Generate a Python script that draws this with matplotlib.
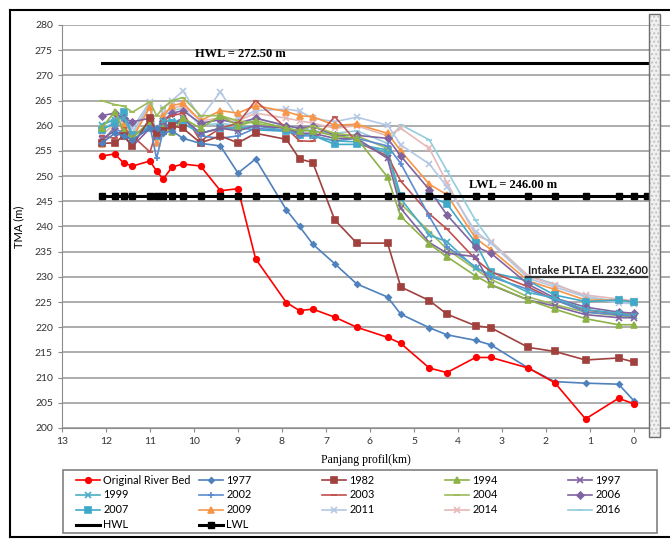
import matplotlib
matplotlib.use("Agg")
import matplotlib.pyplot as plt
from matplotlib.patches import Rectangle
from matplotlib.lines import Line2D

# jarak profil (km) tiap stasiun
km = [12.1, 11.8, 11.6, 11.4, 11.0, 10.85, 10.7, 10.5, 10.25, 9.85, 9.4, 9.0, 8.6,
      7.9, 7.6, 7.3, 6.8, 6.3, 5.6, 5.3, 4.65, 4.25, 3.6, 3.25, 2.4, 1.8, 1.1, 0.35, 0.0]

orig = [254.0, 254.4, 252.6, 252.0, 253.0, 251.0, 249.4, 251.8, 252.4, 252.0, 247.1, 247.5, 233.6,
        224.9, 223.3, 223.6, 222.0, 220.0, 218.0, 216.8, 211.9, 211.0, 214.0, 214.0, 211.9, 209.0, 201.8, 205.9, 204.8]
y1977 = [256.5, 258.5, 258.0, 257.2, 259.5, 259.5, 258.5, 259.0, 257.5, 256.5, 256.0, 250.6, 253.4,
         243.3, 240.0, 236.5, 232.6, 228.6, 226.0, 222.6, 219.9, 218.5, 217.4, 216.5, 211.9, 209.2, 208.9, 208.7, 205.4]
y1982 = [256.5, 256.6, 258.0, 256.0, 261.5, 258.5, 259.0, 260.0, 259.5, 256.6, 258.0, 256.6, 258.5,
         257.3, 253.4, 252.7, 241.3, 236.7, 236.7, 228.0, 225.3, 222.6, 220.3, 219.9, 216.0, 215.2, 213.5, 213.9, 213.1]
y1994 = [259.5, 262.8, 259.0, 257.5, 261.0, 258.5, 259.5, 258.8, 261.5, 259.5, 262.0, 260.0, 261.0,
         259.5, 259.0, 259.0, 258.0, 257.5, 249.8, 242.0, 236.5, 234.0, 230.2, 228.5, 225.4, 223.6, 221.7, 220.5, 220.5]
y1997 = [257.3, 259.0, 258.0, 255.9, 259.5, 258.0, 260.0, 260.0, 261.5, 258.5, 259.5, 259.0, 260.0,
         259.5, 258.5, 258.5, 257.5, 257.5, 253.5, 243.6, 236.8, 234.7, 234.0, 228.4, 225.4, 224.2, 222.5, 221.9, 221.9]
y1999 = [260.2, 261.2, 261.5, 258.2, 260.0, 258.8, 261.0, 261.0, 260.5, 258.5, 259.5, 259.5, 260.0,
         259.0, 258.5, 258.0, 257.0, 256.8, 254.5, 245.5, 238.3, 237.0, 231.7, 230.5, 226.9, 225.8, 223.5, 222.8, 222.3]
y2002 = [257.0, 259.5, 258.5, 257.0, 260.0, 253.5, 259.0, 260.5, 261.5, 258.0, 257.5, 258.0, 259.5,
         259.0, 258.0, 258.0, 257.0, 257.5, 256.0, 252.5, 242.0, 236.0, 232.0, 230.0, 227.5, 225.5, 223.0, 222.5, 222.2]
y2003 = [258.0, 257.5, 259.5, 258.0, 254.8, 259.0, 261.0, 262.0, 262.5, 257.0, 259.5, 260.5, 265.0,
         259.5, 257.0, 256.9, 261.8, 256.8, 254.0, 249.0, 242.5, 239.5, 233.5, 231.0, 228.0, 225.4, 223.4, 222.7, 222.5]
y2004 = [265.0, 264.2, 263.9, 262.7, 264.8, 262.0, 263.5, 265.0, 265.6, 262.0, 262.0, 261.0, 260.5,
         259.5, 259.0, 259.9, 258.5, 258.0, 255.5, 244.5, 239.0, 235.5, 231.5, 229.5, 226.0, 224.5, 223.0, 222.3, 222.0]
y2006 = [262.0, 262.5, 261.5, 260.8, 261.5, 259.0, 261.0, 262.5, 263.0, 260.5, 261.2, 260.5, 261.5,
         260.0, 259.5, 259.9, 258.1, 258.1, 257.5, 254.0, 247.3, 242.3, 236.0, 234.7, 228.5, 225.8, 224.0, 223.0, 222.8]
y2007 = [259.2, 260.5, 262.8, 258.2, 259.5, 258.0, 260.0, 260.5, 260.5, 258.5, 259.5, 259.6, 259.2,
         258.9, 258.2, 258.1, 256.3, 256.3, 255.2, 246.0, 246.0, 244.5, 236.8, 230.9, 229.2, 226.4, 225.1, 225.4, 225.0]
y2009 = [256.4, 260.0, 260.2, 257.5, 263.7, 256.5, 262.0, 264.0, 264.5, 261.0, 263.0, 262.5, 264.0,
         262.8, 262.0, 261.8, 260.1, 260.3, 258.5, 255.0, 248.4, 246.3, 237.7, 235.4, 229.2, 227.5, 225.4, 225.4, 225.1]
y2011 = [259.0, 261.0, 262.0, 259.5, 264.8, 258.0, 263.5, 265.0, 266.9, 261.5, 266.7, 261.5, 263.0,
         263.3, 262.9, 261.5, 260.8, 261.7, 260.1, 256.2, 252.4, 247.9, 239.0, 236.7, 229.7, 228.0, 226.0, 224.8, 224.7]
y2014 = [258.0, 260.5, 261.0, 258.0, 264.0, 257.5, 262.5, 263.5, 264.0, 261.0, 261.5, 261.0, 262.5,
         261.5, 261.0, 260.5, 259.5, 260.0, 258.0, 259.5, 255.5, 248.7, 238.3, 237.0, 230.1, 228.4, 226.4, 225.6, 225.3]
y2016 = [260.2, 261.5, 262.5, 258.5, 264.5, 258.0, 262.0, 263.0, 263.5, 260.0, 260.5, 260.0, 261.5,
         260.0, 259.5, 259.0, 258.5, 259.0, 256.5, 260.2, 257.2, 251.1, 241.2, 237.0, 230.2, 228.6, 226.1, 225.1, 224.6]

# muka air
hwl = 272.5
lwl = 246.0
hwl_x = [12.1, -0.3]
lwl_x = km + [-0.3]
intake_x = [2.45, -0.3]
intake_y = 230.0

fig = plt.figure(figsize=(6.7, 5.41), dpi=100)
ax = fig.add_axes([62/670, 113/541, 608/670, 403/541])

# garis seri: (label, data, warna, marker, ukuran)
seri = [
    ("Original River Bed", orig, "#FF0000", "o", 4),
    ("1977", y1977, "#4F81BD", "D", 2.8),
    ("1982", y1982, "#A0413E", "s", 4),
    ("1994", y1994, "#8DB247", "^", 4.5),
    ("1997", y1997, "#7F62A0", "x", 4),
    ("1999", y1999, "#4BACC6", "x", 4),
    ("2002", y2002, "#5B8BD0", "+", 4),
    ("2003", y2003, "#C0504D", "_", 4),
    ("2004", y2004, "#9BBB59", "_", 4),
    ("2006", y2006, "#8064A2", "D", 3.5),
    ("2007", y2007, "#3FA9C9", "s", 5),
    ("2009", y2009, "#F79646", "^", 5),
    ("2011", y2011, "#B4C8E6", "x", 5),
    ("2014", y2014, "#E6B9B8", "x", 5),
    ("2016", y2016, "#93CDDD", "_", 5),
]

h = {}
for nama, data, warna, mk, ms in seri[::-1]:
    h[nama], = ax.plot(km, data, color=warna, marker=mk, markersize=ms, lw=1.2,
                       markeredgewidth=1.2, label=nama)

h["HWL"], = ax.plot(hwl_x, [hwl, hwl], color="black", lw=2.2, label="HWL")
h["LWL"], = ax.plot(lwl_x, [lwl] * len(lwl_x), color="black", lw=2.2, marker="s",
                    markersize=5, label="LWL")
ax.plot(intake_x, [intake_y, intake_y], color="#333333", lw=1.6)

ax.text(8.95, 274.3, "HWL = 272.50 m", fontsize=9, fontweight="bold",
        family="Liberation Serif", ha="center", va="center")
ax.text(2.75, 248.3, "LWL = 246.00 m", fontsize=9, fontweight="bold",
        family="Liberation Serif", ha="center", va="center")
ax.text(1.05, 231.4, "Intake PLTA El. 232,600", fontsize=8, fontweight="bold",
        family="Lato", ha="center", va="center", color="#222222")

# tiang di kanan
ax.add_patch(Rectangle((-0.34, 198.2), -0.25, 84, transform=ax.transData, clip_on=False,
                       facecolor="#F0F0F0", edgecolor="#C4C4C4", hatch="....", lw=0, zorder=5))
ax.add_patch(Rectangle((-0.34, 198.2), -0.25, 84, transform=ax.transData, clip_on=False,
                       fill=False, edgecolor="#6E6E6E", lw=1.0, zorder=6))

ax.set_xlim(13, -0.82)
ax.set_ylim(200, 280)
ax.set_xticks(range(0, 14))
ax.set_yticks(range(200, 281, 5))
ax.yaxis.grid(True, color="#A6A6A6", lw=1.3)
ax.set_axisbelow(True)
for s in ["top", "right"]:
    ax.spines[s].set_visible(False)
for s in ["left", "bottom"]:
    ax.spines[s].set_color("#8C8C8C")
ax.tick_params(colors="#8C8C8C", labelcolor="#333333", labelsize=7.5, length=3)
for t in ax.get_xticklabels() + ax.get_yticklabels():
    t.set_family("Lato")
ax.set_xlabel("Panjang profil(km)", family="Liberation Serif", fontsize=8.5, labelpad=6)
ax.set_ylabel("TMA (m)", family="Lato", fontsize=8, labelpad=8)

# legenda: lima kolom sama lebar, satu bingkai
kolom = [["Original River Bed", "1999", "2007", "HWL"],
         ["1977", "2002", "2009", "LWL"],
         ["1982", "2003", "2011"],
         ["1994", "2004", "2014"],
         ["1997", "2006", "2016"]]
for i, isi in enumerate(kolom):
    lg = fig.legend([h[n] for n in isi], isi, loc="upper left",
                    bbox_to_anchor=((76 + 123 * i) / 670, 66.5 / 541),
                    prop={"family": "Lato", "size": 7.8}, frameon=False,
                    handlelength=2.2, labelspacing=0.36, borderpad=0,
                    borderaxespad=0, handletextpad=0.3, handleheight=0.6)
fig.add_artist(Rectangle((63/670, 8/541), 594/670, 63/541, transform=fig.transFigure,
                         fill=False, edgecolor="#808080", lw=1.2))

# bingkai luar gambar
fig.add_artist(Line2D([10/670, 10/670], [4/541, 531/541], color="black", lw=1.5))
fig.add_artist(Line2D([10/670, 1.0], [531/541, 531/541], color="black", lw=1.5))
fig.add_artist(Line2D([10/670, 1.0], [4/541, 4/541], color="black", lw=1.5))

fig.savefig("out.png", dpi=100)
